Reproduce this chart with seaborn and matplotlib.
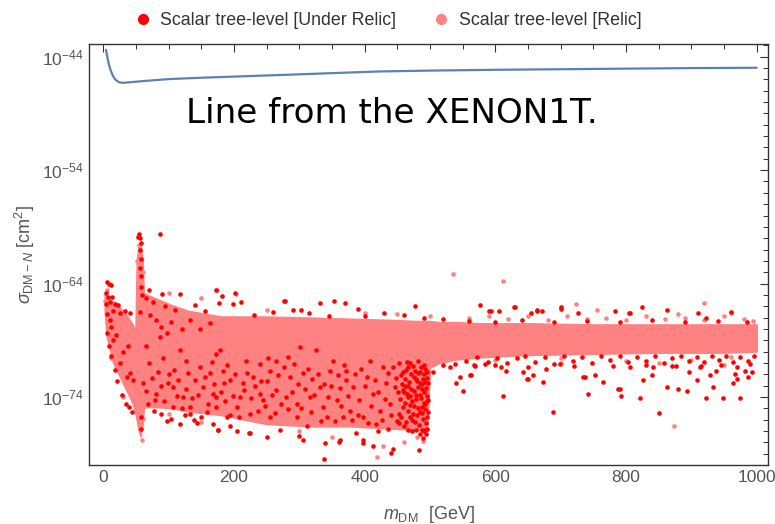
import numpy as np
import pandas as pd
import matplotlib
matplotlib.use("Agg")
import matplotlib.pyplot as plt
from matplotlib.lines import Line2D
from matplotlib.ticker import FixedLocator, NullFormatter
import seaborn as sns

# ---------------- data (log10 of sigma in cm^2) ----------------
xenon_x = [4, 7, 10, 14, 18, 24, 30, 40, 60, 100, 150, 200, 300, 420, 500, 600, 700, 800, 900, 1000]
xenon_logy = [-43.4, -44.3, -45.0, -45.6, -46.0, -46.25, -46.3, -46.25, -46.15, -45.97,
              -45.85, -45.75, -45.55, -45.3, -45.22, -45.15, -45.1, -45.05, -45.0, -44.97]

# envelope of the dense "Relic" cloud
band_x = [2, 5, 15, 25, 35, 45, 49, 51, 54, 57, 60, 62, 64, 80, 105, 130, 180, 250, 320, 380,
          440, 480, 496, 500, 515, 540, 580, 650, 750, 850, 950, 1000]
band_top = [-64.9, -65.2, -65.6, -66.1, -66.7, -67.6, -68.2, -62.0, -60.6, -60.4, -61.8, -64.8,
            -64.9, -65.3, -65.9, -66.4, -66.9, -66.9, -67.0, -67.1, -67.2, -67.3, -67.3, -67.3,
            -67.4, -67.4, -67.5, -67.5, -67.6, -67.6, -67.6, -67.6]
band_bot = [-66.5, -68.7, -71.0, -72.2, -73.4, -74.6, -75.5, -76.0, -77.0, -77.5, -76.5, -75.0,
            -74.9, -74.9, -75.0, -75.3, -75.6, -76.4, -76.6, -76.6, -76.8, -76.9, -76.9, -71.4,
            -71.0, -70.7, -70.5, -70.3, -70.2, -70.1, -70.1, -70.0]

# scattered "Relic" points outside the dense cloud
relic_pts = [(535, -63.2), (612, -63.8), (920, -65.7), (723, -65.8), (874, -76.6), (419, -79.3),
             (58.4, -77.8), (45.6, -74.4), (174, -64.6), (203, -64.9), (879, -66.7), (755, -66.3),
             (960, -66.6), (428, -78.3), (489, -77.9), (560, -67.0), (590, -66.9), (620, -67.1),
             (650, -66.9), (680, -67.2), (710, -66.9), (740, -67.1), (770, -67.0), (800, -67.2),
             (830, -66.9), (860, -67.1), (890, -67.0), (920, -67.2), (950, -66.9), (980, -67.1),
             (995, -67.3), (600, -70.7), (700, -70.6), (800, -70.8), (900, -70.7), (960, -70.5),
             (55, -60.6), (56, -61.5), (60, -63.0), (52, -62.0), (5, -64.6), (3, -65.5),
             (150, -65.3), (100, -64.8), (250, -66.3), (400, -66.6), (450, -66.7), (500, -66.9),
             (520, -70.5), (480, -77.5), (300, -77.0), (150, -76.2), (100, -75.5), (60, -75.9),
             (30, -74.0), (12, -70.6), (700, -71.0), (850, -71.0), (950, -71.2), (460, -78.0),
             (350, -77.5)]

# "Under Relic" points
under_pts = [
    # low-mass cluster
    (5, -63.9), (8, -64.0), (12, -64.1), (4, -64.8), (7.3, -65.2), (10, -65.6), (14, -65.2),
    (15, -66.4), (18, -65.8), (22.6, -65.9), (26, -66.6), (33, -66.4), (40.5, -66.6), (5, -68.4),
    (10, -67.2), (8, -69.5), (12, -70.4), (17.6, -71.6), (21, -72.6), (28, -73.8), (35.5, -72.2),
    (34, -74.6), (40, -74.9), (44, -75.3), (40.5, -71.9), (20, -68.5), (30, -70.0), (15, -69.0),
    (25, -71.0), (38, -69.5), (45, -72.5), (3.5, -65.8), (6, -66.7), (12, -67.8),
    # Higgs resonance spike
    (53, -59.9), (55, -59.6), (56, -60.0), (57, -60.4), (55.5, -61.0), (57.5, -61.8), (56.5, -62.6),
    (58, -63.3), (57, -64.3), (58.5, -65.0), (56, -66.5), (57, -75.8), (58, -76.8), (86.5, -59.6),
    # wedge above the band, 60-210 GeV
    (65, -65.3), (70, -64.6), (90, -64.9), (76, -65.6), (81, -67.2), (89, -67.8), (97, -68.4),
    (86, -68.7), (104, -67.4), (120, -68.0), (132, -67.2), (148, -68.0), (163, -67.5), (118, -64.9),
    (173, -64.6), (182, -65.1), (177, -65.7), (198, -65.8), (210, -65.6), (201, -64.8), (140, -65.9),
    (110, -66.3), (72, -66.8), (95, -66.0), (155, -66.4),
    # lower region 60-200 GeV
    (61, -72.8), (81, -73.7), (107, -73.1), (122, -74.0), (132, -74.9), (89, -75.5), (97, -76.1),
    (117, -76.4), (132, -75.5), (153, -73.1), (163, -71.9), (173, -74.0), (168, -76.4), (148, -71.4),
    (127, -70.8), (117, -69.9), (173, -70.2), (143, -76.3), (175, -76.9), (107, -74.9), (125, -75.6),
    (158, -75.3), (194, -75.6), (79, -74.3), (70, -71.0), (100, -72.0), (140, -72.5), (185, -72.8),
    (66, -69.5), (92, -70.6),
    (65, -73.5), (68, -74.6), (74, -72.3), (78, -75.2), (84, -71.8), (88, -73.0), (93, -74.4),
    (99, -72.8), (103, -75.9), (108, -71.6), (112, -73.9), (115, -72.5), (120, -75.0), (126, -73.3),
    (130, -71.9), (135, -74.1), (138, -76.0), (145, -73.8), (150, -75.8), (156, -72.2), (160, -74.6),
    (166, -70.9), (170, -72.9), (180, -73.6), (186, -74.4), (190, -71.2), (198, -73.9),
    # middle region 160-380 GeV
    (178, -69.9), (183, -71.7), (194, -72.5), (214, -72.8), (229, -72.2), (239, -71.1), (245, -74.3),
    (265, -70.8), (280, -74.0), (286, -72.2), (306, -71.9), (316, -74.0), (331, -73.1), (347, -71.7),
    (357, -74.3), (372, -72.5), (204, -74.9), (224, -75.5), (189, -75.8), (255, -75.8), (296, -75.8),
    (342, -75.8), (367, -75.8), (311, -76.6), (239, -73.7), (265, -73.4), (296, -74.6), (336, -74.9),
    (168, -73.7), (173, -74.9), (219, -70.8), (209, -74.0), (352, -70.8), (326, -69.9), (301, -69.6),
    (255, -71.7), (283, -70.5), (362, -73.2), (250, -72.6), (320, -72.4),
    (202, -72.0), (208, -75.8), (215, -73.4), (220, -71.9), (226, -74.1), (232, -73.0), (236, -75.2),
    (242, -72.6), (248, -74.8), (252, -70.6), (258, -73.8), (262, -75.4), (268, -72.1), (272, -74.6),
    (277, -71.4), (282, -75.1), (288, -73.6), (292, -71.1), (298, -72.9), (303, -75.0), (308, -73.3),
    (313, -71.5), (318, -75.3), (323, -73.8), (328, -72.0), (333, -76.1), (338, -72.9), (344, -74.0),
    (349, -73.0), (354, -76.1), (359, -72.1), (364, -74.8), (369, -71.2),
    (176, -76.9), (205, -77.0), (224, -77.2), (300, -77.4), (306, -77.8), (339, -78.1), (362, -77.8),
    (194, -76.6), (223, -77.2), (338, -79.5), (360, -78.0), (270, -76.9), (250, -77.5),
    (278, -65.5), (290, -66.3), (302, -66.3), (331, -65.7), (353, -65.5), (370, -65.7), (276, -65.5),
    (390, -66.2), (477, -66.0), (230, -66.8), (260, -66.5), (315, -66.6), (345, -66.9),
    (400, -66.9), (430, -66.6), (460, -66.8), (490, -67.0), (520, -67.1),
    # 370-450 GeV
    (372, -71.7), (382, -73.1), (392, -74.3), (403, -72.2), (413, -73.7), (423, -75.2), (433, -72.8),
    (438, -74.6), (443, -71.4), (449, -76.1), (418, -76.4), (398, -75.8), (377, -75.2), (428, -71.4),
    (408, -70.8), (387, -77.2), (398, -77.8), (413, -78.3), (443, -78.6), (397, -78.1), (440.5, -78.9),
    (420, -77.0), (435, -76.8),
    (375, -73.9), (380, -76.0), (385, -72.0), (389, -75.6), (395, -71.5), (400, -73.0), (405, -76.3),
    (410, -74.8), (416, -72.5), (421, -73.6), (426, -76.0), (431, -74.2), (436, -71.9), (440, -75.6),
    (446, -73.1), (448, -72.3),
    # dense cluster 450-497 GeV
    (452, -71.0), (455, -72.1), (458, -73.4), (461, -74.5), (463, -71.6), (466, -75.2), (468, -72.7),
    (470, -73.9), (472, -76.0), (474, -71.3), (476, -74.8), (478, -72.4), (480, -75.6), (481, -73.1),
    (483, -76.5), (485, -71.8), (486, -74.1), (488, -72.9), (489, -75.9), (490, -73.6), (491, -77.0),
    (492, -71.5), (493, -74.6), (494, -76.3), (495, -72.3), (496, -73.9), (497, -75.3), (456, -75.8),
    (460, -76.6), (464, -70.9), (467, -73.0), (471, -72.0), (475, -73.5), (479, -74.2), (482, -71.9),
    (484, -72.8), (487, -76.9), (490, -71.2), (492, -75.1), (494, -73.2), (496, -76.8), (469, -74.7),
    (477, -76.2), (485, -77.3), (462, -73.0), (458, -71.8), (473, -77.0), (488, -74.9), (495, -74.4),
    (481, -70.8), (454, -74.2), (466, -76.9), (483, -78.7), (489, -77.6), (492, -76.9),
    (451, -73.6), (453, -75.5), (457, -72.9), (459, -74.9), (461, -72.4), (463, -76.2), (465, -73.7),
    (467, -71.4), (469, -75.8), (471, -73.3), (473, -74.4), (475, -72.2), (477, -71.7), (479, -76.9),
    (480, -72.6), (482, -75.0), (484, -73.8), (486, -71.4), (487, -75.4), (488, -73.3), (490, -74.5),
    (491, -72.0), (493, -72.7), (494, -77.3), (495, -75.8), (496, -71.8), (497, -74.3), (497, -72.8),
    (452, -76.3), (474, -75.5), (478, -73.8), (489, -72.4), (485, -75.3), (470, -71.0), (466, -74.0),
    (460, -73.6),
    # below the band, > 500 GeV
    (505, -71.8), (520, -71.2), (530, -71.4), (538, -71.1), (546, -72.2), (563, -72.1), (568, -71.2),
    (561, -72.1), (569, -71.3), (584, -71.1), (608, -71.4), (617, -71.7), (612, -73.9), (642, -71.8),
    (650, -72.4), (657, -72.1), (673, -72.7), (678, -71.5), (688, -75.3), (699, -71.1), (741, -73.7),
    (737, -72.2), (752, -72.1), (765, -72.7), (788, -73.3), (734, -72.2), (648, -72.4), (790, -73.3),
    (792, -73.9), (822, -74.1), (850, -75.4), (863, -73.1), (880, -73.3), (893, -73.5), (923, -74.1),
    (948, -74.1), (974, -74.1), (933, -73.1), (963, -72.8), (970, -72.4), (987, -72.2), (826, -72.5),
    (839, -72.1), (897, -71.8), (909, -72.5), (928, -72.1), (938, -71.7), (966, -72.0), (982, -71.7),
    (992, -71.8), (806, -71.4), (841, -71.4), (877, -71.3), (913, -71.4), (550, -73.5), (540, -72.8),
    (555, -70.8), (572, -70.5), (588, -70.9), (603, -70.6), (618, -71.0), (633, -70.6), (646, -70.4),
    (661, -70.9), (676, -70.5), (690, -71.1), (705, -70.4), (719, -70.8), (733, -70.5), (748, -71.0),
    (762, -70.4), (776, -70.7), (790, -70.4), (803, -70.9), (817, -70.5), (831, -70.8), (845, -70.4),
    (858, -71.0), (871, -70.6), (884, -70.4), (896, -70.8), (908, -70.5), (919, -70.9), (931, -70.4),
    (942, -70.7), (953, -70.4), (964, -70.9), (975, -70.5), (986, -70.8), (996, -70.4), (915, -71.3),
    (945, -71.2), (970, -71.4), (990, -71.1), (870, -71.3), (830, -71.2), (780, -71.3), (720, -71.3),
    (650, -71.4), (600, -71.2),
    # above the band, > 500 GeV
    (576, -65.9), (594, -66.4), (628, -66.1), (654, -66.6), (664, -66.4), (672, -66.4), (700, -66.2),
    (727, -66.6), (783, -66.4), (805, -66.6), (825, -66.1), (863, -66.3), (910, -66.6), (591, -66.4),
    (605, -66.4), (630, -66.1), (663, -66.3), (701, -66.1), (806, -66.6), (923, -67.0), (960, -66.5),
    (560, -67.3), (600, -67.4), (640, -67.2), (690, -67.4), (740, -67.3), (790, -67.4), (840, -67.2),
    (890, -67.4), (940, -67.3), (985, -67.4),
]

ytick_exps = [-74, -64, -54, -44]
xtick_vals = [0, 200, 400, 600, 800, 1000]
legend_labels = ["Scalar tree-level [Under Relic]", "Scalar tree-level [Relic]"]
annotation = "Line from the XENON1T."

# ---------------- styling ----------------
RED = "#FF0000"
PINK = "#FF8282"
BLUE = "#5E81B5"
GRAY = "#555555"

sns.set_style("white")
plt.rcParams["font.family"] = ["Liberation Sans", "DejaVu Sans"]
plt.rcParams["mathtext.fontset"] = "custom"
plt.rcParams["mathtext.rm"] = "Liberation Sans"
plt.rcParams["mathtext.it"] = "Liberation Sans:italic"
plt.rcParams["mathtext.default"] = "regular"

fig = plt.figure(figsize=(7.75, 5.24), dpi=100)
ax = fig.add_axes([0.1148, 0.1126, 0.8768, 0.8029])
ax.set_yscale("log")

under_df = pd.DataFrame(under_pts, columns=["m", "logs"])
under_df["sigma"] = 10.0 ** under_df["logs"]
relic_df = pd.DataFrame(relic_pts, columns=["m", "logs"])
relic_df["sigma"] = 10.0 ** relic_df["logs"]

ax.fill_between(band_x, 10.0 ** np.array(band_bot), 10.0 ** np.array(band_top),
                color=PINK, lw=1.0, edgecolor=PINK, zorder=1)
sns.scatterplot(data=relic_df, x="m", y="sigma", color=PINK, s=11, linewidth=0,
                ax=ax, zorder=2, legend=False)
sns.scatterplot(data=under_df, x="m", y="sigma", color=RED, s=11, linewidth=0,
                ax=ax, zorder=3, legend=False)
sns.lineplot(x=xenon_x, y=10.0 ** np.array(xenon_logy), color=BLUE, lw=1.6,
             ax=ax, zorder=4, sort=False)

ax.set_xlim(-22, 1018)
ax.set_ylim(1e-80, 10 ** -42.9)

ax.xaxis.set_major_locator(FixedLocator(xtick_vals))
ax.xaxis.set_minor_locator(FixedLocator(list(range(0, 1001, 50))))
ax.set_xticklabels([str(v) for v in xtick_vals])
ax.yaxis.set_major_locator(FixedLocator([10.0 ** e for e in ytick_exps]))
ax.yaxis.set_minor_locator(FixedLocator([10.0 ** e for e in range(-80, -42)]))
ax.yaxis.set_minor_formatter(NullFormatter())
ax.set_yticklabels([r"$10^{%d}$" % e for e in ytick_exps])

ax.tick_params(which="both", direction="in", top=True, right=True, colors="#333333",
               labelcolor=GRAY, labelsize=12.5)
ax.tick_params(which="major", length=6, width=0.8)
ax.tick_params(which="minor", length=3.5, width=0.7)
for sp in ax.spines.values():
    sp.set_color("#333333")
    sp.set_linewidth(1.0)

ax.set_xlabel(r"$\mathit{m}_{\mathrm{DM}}$  [GeV]", color=GRAY, fontsize=13, labelpad=14)
ax.set_ylabel(r"$\mathit{\sigma}_{\mathrm{DM}-\mathit{N}}$ [cm$^{2}$]", color=GRAY, fontsize=13,
              labelpad=4)

fig.text(0.505, 1 - 123 / 524, annotation, fontsize=24.6,
         family="DejaVu Sans", color="black", ha="center", va="baseline")

handles = [Line2D([], [], marker="o", ls="", color=RED, markersize=7),
           Line2D([], [], marker="o", ls="", color=PINK, markersize=7)]
fig.legend(handles, legend_labels, loc="upper center", bbox_to_anchor=(0.500, 1.008), ncol=2,
           frameon=False, fontsize=12.8, handlelength=1.0, handletextpad=0.5,
           columnspacing=2.0, labelcolor="#333333")

fig.savefig("out.png", dpi=100)
